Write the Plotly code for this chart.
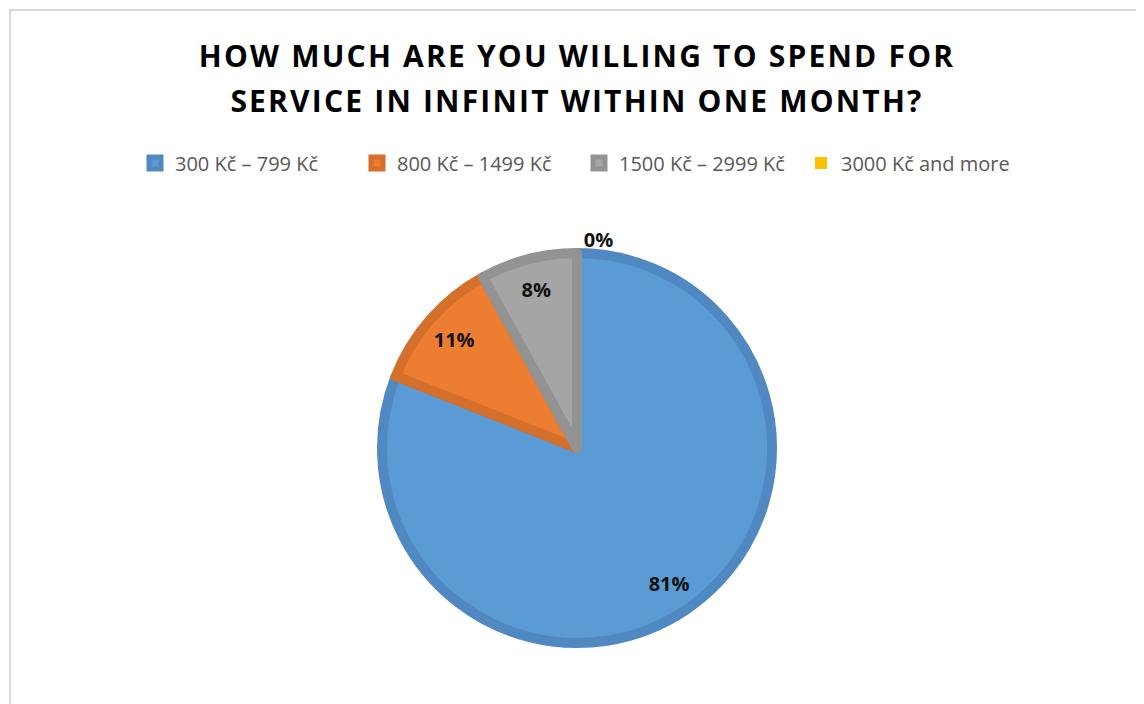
import plotly.graph_objects as go

categories = ["300 Kč – 799 Kč", "800 Kč – 1499 Kč", "1500 Kč – 2999 Kč", "3000 Kč and more"]
values = [81, 11, 8, 0]
fill_colors = ["#5B9BD5", "#ED7D31", "#A5A5A5", "#FFC000"]
line_colors = ["#5089C1", "#D46F2C", "#939393", "#E5AC00"]
title_lines = ["HOW MUCH ARE YOU WILLING TO SPEND FOR", "SERVICE IN INFINIT WITHIN ONE MONTH?"]

# the page body has an 8px margin, so the figure is 8px smaller on each side
OFF = 8
W, H = 1144 - OFF, 704 - OFF
cx, cy, r = 577 - OFF, 448 - OFF, 195
LW = 10

dom = dict(x=[(cx - r) / W, (cx + r) / W], y=[1 - (cy + r) / H, 1 - (cy - r) / H])
line_widths = [LW if v > 0 else 0 for v in values]
label_font = dict(family="Open Sans", size=20, color="#111111", weight="bold")

fig = go.Figure()
# coloured slices
fig.add_trace(go.Pie(
    labels=categories, values=values, sort=False, direction="clockwise", rotation=0,
    marker=dict(colors=fill_colors, line=dict(color=line_colors, width=line_widths)),
    textinfo="none", hoverinfo="label+percent", domain=dom, showlegend=True,
))
# transparent ring used only to place the percentage labels near the rim
fig.add_trace(go.Pie(
    labels=categories, values=values, sort=False, direction="clockwise", rotation=0,
    hole=0.68,
    marker=dict(colors=["rgba(0,0,0,0)"] * len(values), line=dict(width=0)),
    texttemplate="%{percent:.0%}",
    textposition=["inside" if v > 0 else "outside" for v in values],
    insidetextorientation="horizontal",
    textfont=label_font, outsidetextfont=label_font,
    hoverinfo="skip", domain=dom, showlegend=False,
))

ls = "font-size:30px;letter-spacing:2.2px"
fig.update_layout(
    width=W, height=H,
    margin=dict(l=0, r=0, t=0, b=0),
    paper_bgcolor="white",
    title=dict(
        text="<br>".join(f'<span style="{ls}">{t}</span>' for t in title_lines),
        x=(577 - OFF) / W, xanchor="center", y=1 - (67 - OFF) / H, yanchor="middle",
        font=dict(family="Open Sans", size=34.6, color="#000000", weight="bold"),
    ),
    legend=dict(
        orientation="h", x=(579 - OFF) / W, xanchor="center", y=1 - (163 - OFF) / H, yanchor="middle",
        font=dict(family="Open Sans", size=20, color="#595959"),
        entrywidth=177, entrywidthmode="pixels",
        itemclick=False,
    ),
    shapes=[dict(type="rect", xref="paper", yref="paper",
                 x0=(10 - OFF) / W, x1=(1141 - OFF) / W, y0=-0.05, y1=1 - (10 - OFF) / H,
                 line=dict(color="#D9D9D9", width=2))],
)

fig.write_html("out.html")
